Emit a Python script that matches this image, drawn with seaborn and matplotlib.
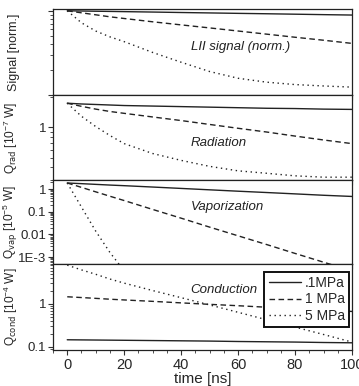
import numpy as np
import pandas as pd
import matplotlib
matplotlib.use("Agg")
import matplotlib.pyplot as plt
from matplotlib.ticker import MultipleLocator, FixedLocator, FixedFormatter, NullFormatter, LogLocator
import seaborn as sns

# ---------------- data ----------------
time_ns = [0, 5, 10, 15, 20, 30, 40, 50, 60, 70, 80, 90, 100]
pressures = [".1MPa", "1 MPa", "5 MPa"]

signal_01 = [1.0, 0.994, 0.988, 0.983, 0.977, 0.966, 0.954, 0.943, 0.932, 0.922, 0.911, 0.900, 0.89]
signal_1 = [1.0, 0.946, 0.896, 0.848, 0.81, 0.74, 0.68, 0.626, 0.575, 0.528, 0.485, 0.447, 0.41]
signal_5 = [1.0, 0.72, 0.575, 0.49, 0.43, 0.32, 0.245, 0.19, 0.158, 0.142, 0.133, 0.128, 0.124]

rad_01 = [1.74, 1.71, 1.69, 1.67, 1.65, 1.63, 1.61, 1.59, 1.57, 1.55, 1.54, 1.52, 1.51]
rad_1 = [1.74, 1.62, 1.52, 1.44, 1.38, 1.27, 1.17, 1.07, 0.98, 0.90, 0.82, 0.75, 0.69]
rad_5 = [1.74, 1.29, 1.02, 0.83, 0.69, 0.55, 0.47, 0.41, 0.37, 0.35, 0.33, 0.32, 0.32]

vap_01 = [1.84, 1.72, 1.60, 1.49, 1.40, 1.22, 1.06, 0.92, 0.80, 0.70, 0.61, 0.53, 0.47]
vap_1 = [1.84, 1.18, 0.75, 0.48, 0.31, 0.126, 0.052, 0.021, 0.0087, 0.0036, 0.00146, 0.0006, 0.00025]
vap_5 = [1.84, 0.16, 0.014, 0.0016, 0.00025, 3e-6, 4e-8, 5e-10, 6e-12, 8e-14, 1e-15, 1e-17, 1e-19]

cond_01 = [0.147, 0.146, 0.145, 0.144, 0.143, 0.141, 0.139, 0.137, 0.134, 0.132, 0.130, 0.127, 0.125]
cond_1 = [1.47, 1.41, 1.35, 1.29, 1.24, 1.15, 1.06, 0.98, 0.91, 0.84, 0.78, 0.72, 0.67]
cond_5 = [8.0, 6.2, 4.9, 3.8, 3.05, 2.05, 1.40, 0.95, 0.64, 0.43, 0.29, 0.195, 0.13]

panel_names = ["LII signal (norm.)", "Radiation", "Vaporization", "Conduction"]
y_labels = ["Signal [norm.]",
            "Q$_{\\rm rad}$ [10$^{-7}$ W]",
            "Q$_{\\rm vap}$ [10$^{-5}$ W]",
            "Q$_{\\rm cond}$ [10$^{-4}$ W]"]
y_ticks = [[], [1], [1, 0.1, 0.01, 1e-3], [1, 0.1]]
y_ticklabels = [[], ["1"], ["1", "0.1", "0.01", "1E-3"], ["1", "0.1"]]
x_label = "time [ns]"

# ---------------- style ----------------
sns.set_style("ticks")
plt.rcParams["font.family"] = ["Liberation Sans", "DejaVu Sans"]
plt.rcParams["mathtext.default"] = "regular"
plt.rcParams["axes.edgecolor"] = "#222222"
plt.rcParams["axes.linewidth"] = 0.9

series = [(signal_01, signal_1, signal_5),
          (rad_01, rad_1, rad_5),
          (vap_01, vap_1, vap_5),
          (cond_01, cond_1, cond_5)]
ylims = [(0.1, 1.05), (0.3, 2.1), (5.0e-4, 2.49), (0.085, 8.5)]

W, H = 359, 386
fig = plt.figure(figsize=(W / 100, H / 100), dpi=100)
left = 53 / W
width = (352 - 53) / W
panel_px = [(9, 95), (95, 180), (180, 264), (264, 350)]
title_px = [47, 143, 207, 290]
ylabel_size = [9, 8.6, 8.6, 8.6]

dashes = {".1MPa": "", "1 MPa": (4, 2.5), "5 MPa": (1, 2.6)}
line_color = "#222222"

axes = []
for i, (top, bot) in enumerate(panel_px):
    ax = fig.add_axes([left, 1 - bot / H, width, (bot - top) / H])
    rows = []
    for p, vals in zip(pressures, series[i]):
        for t, v in zip(time_ns, vals):
            rows.append({"time": t, "value": v, "pressure": p})
    df = pd.DataFrame(rows)
    sns.lineplot(data=df, x="time", y="value", style="pressure", style_order=pressures,
                 dashes=dashes, color=line_color, linewidth=1.0, legend=False,
                 estimator=None, ax=ax)
    ax.set_yscale("log")
    ax.set_ylim(*ylims[i])
    ax.set_xlim(-5, 100)
    ax.xaxis.set_major_locator(MultipleLocator(20))
    ax.xaxis.set_minor_locator(MultipleLocator(5))
    if y_ticks[i]:
        ax.yaxis.set_major_locator(FixedLocator(y_ticks[i]))
        ax.yaxis.set_major_formatter(FixedFormatter(y_ticklabels[i]))
    else:
        ax.yaxis.set_major_formatter(NullFormatter())
    ax.yaxis.set_minor_locator(LogLocator(base=10, subs=np.arange(2, 10), numticks=20))
    ax.yaxis.set_minor_formatter(NullFormatter())
    ax.tick_params(axis="both", which="major", direction="out", length=3.5, width=0.8,
                   labelsize=9.5, pad=1.5, color="#333333")
    ax.tick_params(axis="both", which="minor", direction="out", length=2, width=0.6,
                   color="#333333")
    ax.tick_params(axis="x", labelsize=10.5, pad=2)
    for s in ax.spines.values():
        s.set_visible(True)
        s.set_color("#222222")
        s.set_linewidth(0.9)
    if i < 3:
        ax.set_xticklabels([])
        ax.set_xlabel("")
    else:
        ax.set_xlabel(x_label, fontsize=11, labelpad=0)
    ax.set_ylabel(y_labels[i], fontsize=ylabel_size[i])
    ax.yaxis.set_label_coords(-0.112, 0.5)
    ax.text(0.46, 1 - (title_px[i] - top) / (bot - top), panel_names[i],
            transform=ax.transAxes, fontsize=9.5, style="italic", color="#222222",
            ha="left", va="center")
    axes.append(ax)

lax = axes[3]
handles = lax.get_lines()[:3]
leg = lax.legend(handles=handles, labels=pressures, loc="upper right",
                 bbox_to_anchor=(0.99, 0.905), fontsize=10, frameon=True,
                 fancybox=False, framealpha=1, edgecolor="#111111",
                 borderpad=0.3, labelspacing=0.15, handlelength=2.3,
                 handletextpad=0.3, borderaxespad=0)
leg.get_frame().set_linewidth(1.4)

fig.savefig("out.png", dpi=100)
